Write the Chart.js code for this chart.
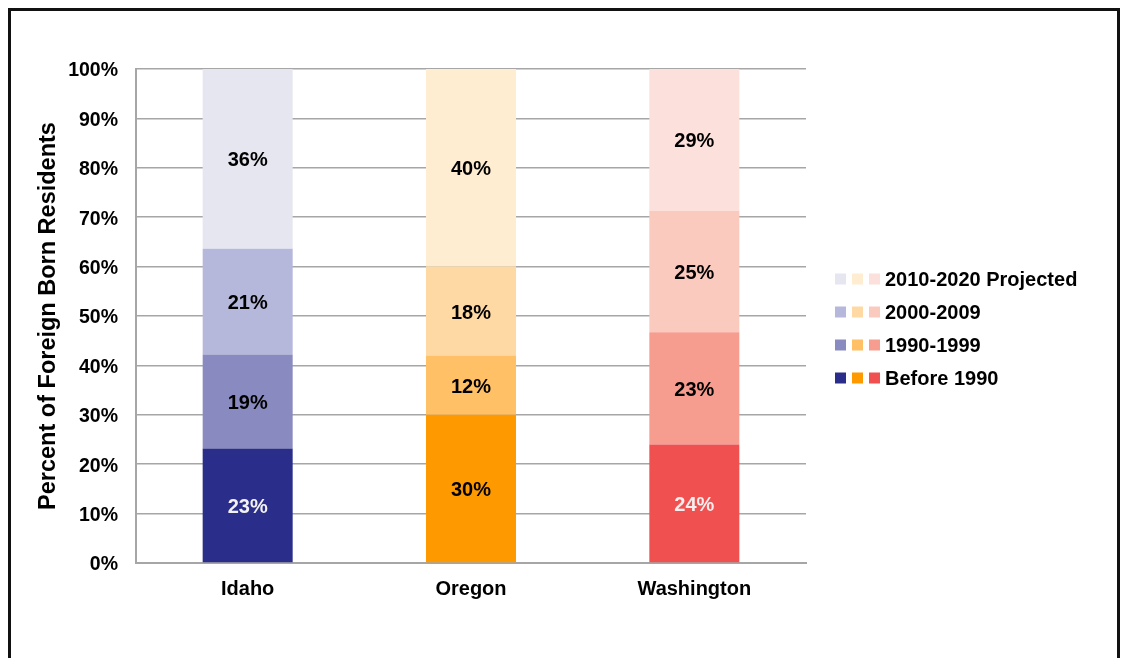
<!DOCTYPE html>
<html>
<head>
<meta charset="utf-8">
<script src="https://cdn.jsdelivr.net/npm/chart.js@4"></script>
<style>
  html, body { margin: 0; padding: 0; background: #fff; }
  #wrap { position: relative; width: 1125px; height: 658px; overflow: hidden; }
  #frame {
    position: absolute; left: 8px; top: 8px; width: 1106px; height: 700px;
    border: 3px solid #111; pointer-events: none;
  }
</style>
</head>
<body>
<div id="wrap">
  <canvas id="chart" width="1125" height="658"></canvas>
  <div id="frame"></div>
</div>
<script>
// --- DATA --- //
const states = ['Idaho', 'Oregon', 'Washington'];
const periods = ['Before 1990', '1990-1999', '2000-2009', '2010-2020 Projected'];

const before1990 = [23.2, 30, 24.0];
const in1990s = [19.0, 12, 22.7];
const in2000s = [21.4, 18, 24.6];
const projected2010s = [36.4, 40, 28.7];

const yTicks = [0, 10, 20, 30, 40, 50, 60, 70, 80, 90, 100];

// one shade per state for each period (dark -> light)
const shades = [
  ['rgb(42,46,138)', 'rgb(255,153,0)', 'rgb(240,80,80)'],
  ['rgb(137,139,192)', 'rgb(255,192,102)', 'rgb(247,157,143)'],
  ['rgb(181,184,218)', 'rgb(255,217,164)', 'rgb(251,202,191)'],
  ['rgb(230,230,241)', 'rgb(255,237,209)', 'rgb(252,224,220)']
];
// label text colour on each segment
const labelColors = [
  ['#f2f2f2', '#000', '#f6eeee'],
  ['#000', '#000', '#000'],
  ['#000', '#000', '#000'],
  ['#000', '#000', '#000']
];

const FONT = "'Liberation Sans', Arial, sans-serif";
Chart.defaults.font.family = FONT;
Chart.defaults.font.weight = 'bold';
Chart.defaults.color = '#000';

const seriesValues = [before1990, in1990s, in2000s, projected2010s];

const datasets = periods.map((p, i) => ({
  label: p,
  data: seriesValues[i],
  backgroundColor: shades[i],
  borderWidth: 0,
  barPercentage: 0.403,
  categoryPercentage: 1
}));

// --- SEGMENT LABELS --- //
const segmentLabels = {
  id: 'segmentLabels',
  afterDatasetsDraw(chart) {
    const ctx = chart.ctx;
    ctx.save();
    ctx.font = 'bold 20px ' + FONT;
    ctx.textAlign = 'center';
    ctx.textBaseline = 'middle';
    chart.data.datasets.forEach((ds, i) => {
      chart.getDatasetMeta(i).data.forEach((bar, j) => {
        const mid = (bar.y + bar.base) / 2;
        ctx.fillStyle = labelColors[i][j];
        ctx.fillText(Math.round(ds.data[j]) + '%', bar.x, mid + 2);
      });
    });
    ctx.restore();
  }
};

// --- LEGEND (three swatches per period) --- //
const swatchLegend = {
  id: 'swatchLegend',
  afterDraw(chart) {
    const ctx = chart.ctx;
    const x0 = 835, y0 = 279, step = 33, box = 11, gap = 17;
    ctx.save();
    ctx.font = 'bold 20px ' + FONT;
    ctx.textBaseline = 'middle';
    ctx.textAlign = 'left';
    for (let r = 0; r < periods.length; r++) {
      const i = periods.length - 1 - r;
      const y = y0 + r * step;
      shades[i].forEach((c, k) => {
        ctx.fillStyle = c;
        ctx.fillRect(x0 + k * gap, y - box / 2, box, box);
      });
      ctx.fillStyle = '#000';
      ctx.fillText(periods[i], 885, y + 1);
    }
    ctx.restore();
  }
};

// --- STACKED BAR CHART --- //
const chartEl = document.getElementById('chart');

new Chart(chartEl, {
  type: 'bar',
  data: { labels: states, datasets: datasets },
  options: {
    responsive: false,
    animation: false,
    layout: { padding: { left: 22, top: 69, right: 319, bottom: 0 } },
    plugins: {
      legend: { display: false },
      tooltip: { enabled: false }
    },
    scales: {
      x: {
        stacked: true,
        grid: { display: false },
        border: { color: '#a6a6a6', width: 2 },
        ticks: { font: { size: 20, weight: 'bold' }, padding: 6, color: '#000' },
        afterFit: scale => { scale.height = 95; }
      },
      y: {
        stacked: true,
        min: 0,
        max: 100,
        afterBuildTicks: scale => { scale.ticks = yTicks.map(v => ({ value: v })); },
        ticks: {
          font: { size: 19.5, weight: 'bold' },
          padding: 18,
          labelOffset: 2,
          color: '#000',
          callback: v => v + '%'
        },
        grid: { color: '#a6a6a6', lineWidth: 1.5, drawTicks: false },
        border: { color: '#a6a6a6', width: 2 },
        title: {
          display: true,
          text: 'Percent of Foreign Born Residents',
          font: { size: 23.5, weight: 'bold' },
          color: '#000',
          padding: { top: 12, bottom: 0 }
        },
        afterFit: scale => { scale.width = 114; }
      }
    }
  },
  plugins: [segmentLabels, swatchLegend]
});
</script>
</body>
</html>
